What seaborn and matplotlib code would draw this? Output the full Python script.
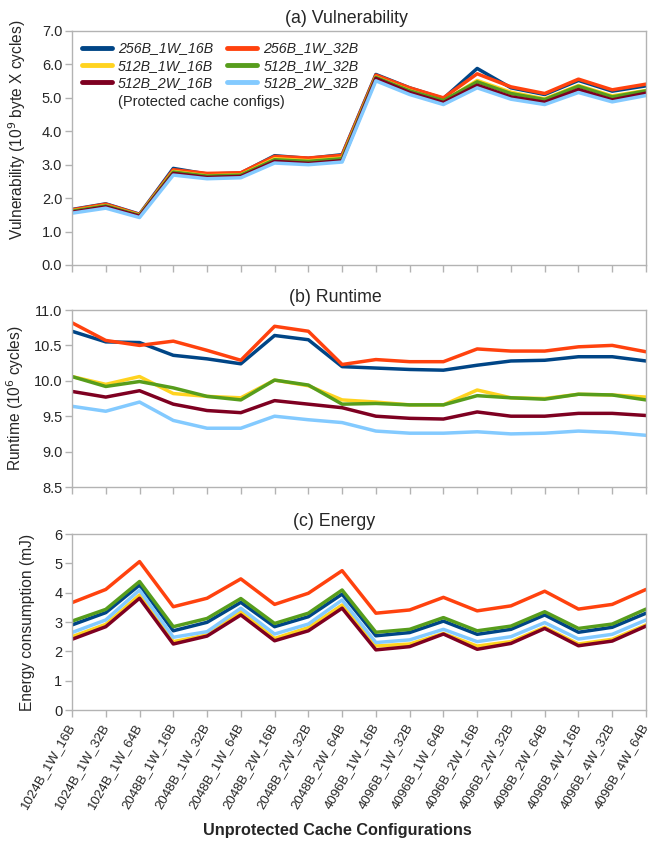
import numpy as np
import pandas as pd
import matplotlib
matplotlib.use("Agg")
import matplotlib.pyplot as plt
import seaborn as sns

# x categories (unprotected cache configs)
configs = ["1024B_1W_16B", "1024B_1W_32B", "1024B_1W_64B",
           "2048B_1W_16B", "2048B_1W_32B", "2048B_1W_64B",
           "2048B_2W_16B", "2048B_2W_32B", "2048B_2W_64B",
           "4096B_1W_16B", "4096B_1W_32B", "4096B_1W_64B",
           "4096B_2W_16B", "4096B_2W_32B", "4096B_2W_64B",
           "4096B_4W_16B", "4096B_4W_32B", "4096B_4W_64B"]

series = ["256B_1W_16B", "256B_1W_32B", "512B_1W_16B",
          "512B_1W_32B", "512B_2W_16B", "512B_2W_32B"]
colors = ["#004586", "#ff420e", "#ffd320", "#579d1c", "#7e0021", "#83caff"]

# (a) vulnerability, 10^9 byte x cycles
vul_256_1w_16 = [1.66, 1.83, 1.52, 2.89, 2.72, 2.75, 3.27, 3.19, 3.30, 5.70, 5.30, 4.98, 5.88, 5.30, 5.10, 5.52, 5.20, 5.36]
vul_256_1w_32 = [1.65, 1.82, 1.51, 2.85, 2.74, 2.76, 3.25, 3.20, 3.28, 5.68, 5.30, 5.00, 5.72, 5.33, 5.13, 5.56, 5.24, 5.41]
vul_512_1w_16 = [1.62, 1.78, 1.49, 2.80, 2.67, 2.70, 3.18, 3.12, 3.20, 5.62, 5.22, 4.90, 5.52, 5.17, 4.97, 5.37, 5.06, 5.22]
vul_512_1w_32 = [1.61, 1.77, 1.48, 2.78, 2.66, 2.69, 3.15, 3.10, 3.18, 5.61, 5.21, 4.92, 5.48, 5.13, 4.95, 5.35, 5.03, 5.21]
vul_512_2w_16 = [1.58, 1.74, 1.46, 2.74, 2.62, 2.65, 3.10, 3.04, 3.12, 5.58, 5.16, 4.86, 5.38, 5.03, 4.87, 5.25, 4.94, 5.14]
vul_512_2w_32 = [1.55, 1.70, 1.42, 2.69, 2.58, 2.61, 3.05, 3.00, 3.08, 5.51, 5.10, 4.80, 5.30, 4.96, 4.80, 5.16, 4.88, 5.07]

# (b) runtime, 10^6 cycles
rt_256_1w_16 = [10.70, 10.55, 10.54, 10.36, 10.31, 10.24, 10.64, 10.58, 10.20, 10.18, 10.16, 10.15, 10.22, 10.28, 10.29, 10.34, 10.34, 10.28]
rt_256_1w_32 = [10.82, 10.57, 10.50, 10.56, 10.43, 10.29, 10.77, 10.70, 10.23, 10.30, 10.27, 10.27, 10.45, 10.42, 10.42, 10.48, 10.50, 10.41]
rt_512_1w_16 = [10.06, 9.95, 10.06, 9.82, 9.78, 9.76, 10.01, 9.93, 9.73, 9.70, 9.66, 9.66, 9.87, 9.76, 9.75, 9.81, 9.80, 9.77]
rt_512_1w_32 = [10.06, 9.92, 9.99, 9.90, 9.78, 9.73, 10.01, 9.94, 9.67, 9.68, 9.66, 9.66, 9.79, 9.76, 9.74, 9.81, 9.80, 9.73]
rt_512_2w_16 = [9.85, 9.77, 9.86, 9.67, 9.58, 9.55, 9.72, 9.67, 9.62, 9.50, 9.47, 9.46, 9.56, 9.50, 9.50, 9.54, 9.54, 9.51]
rt_512_2w_32 = [9.64, 9.57, 9.70, 9.44, 9.33, 9.33, 9.50, 9.45, 9.41, 9.29, 9.26, 9.26, 9.28, 9.25, 9.26, 9.29, 9.27, 9.23]

# (c) energy, mJ
en_256_1w_16 = [2.90, 3.32, 4.26, 2.70, 2.99, 3.67, 2.84, 3.18, 3.95, 2.53, 2.64, 3.03, 2.58, 2.75, 3.24, 2.65, 2.82, 3.30]
en_256_1w_32 = [3.66, 4.11, 5.06, 3.52, 3.81, 4.47, 3.60, 3.98, 4.75, 3.30, 3.41, 3.84, 3.38, 3.55, 4.05, 3.44, 3.60, 4.11]
en_512_1w_16 = [2.50, 2.92, 3.92, 2.33, 2.56, 3.35, 2.44, 2.81, 3.58, 2.18, 2.25, 2.61, 2.18, 2.33, 2.82, 2.25, 2.41, 2.90]
en_512_1w_32 = [3.03, 3.43, 4.38, 2.84, 3.12, 3.80, 2.95, 3.30, 4.09, 2.65, 2.75, 3.15, 2.70, 2.86, 3.35, 2.78, 2.93, 3.44]
en_512_2w_16 = [2.41, 2.84, 3.81, 2.25, 2.52, 3.24, 2.36, 2.70, 3.47, 2.05, 2.16, 2.59, 2.07, 2.27, 2.78, 2.19, 2.35, 2.86]
en_512_2w_32 = [2.64, 3.07, 4.09, 2.48, 2.67, 3.47, 2.59, 2.93, 3.75, 2.30, 2.39, 2.75, 2.33, 2.50, 2.98, 2.42, 2.58, 3.07]

vul = [vul_256_1w_16, vul_256_1w_32, vul_512_1w_16, vul_512_1w_32, vul_512_2w_16, vul_512_2w_32]
rt = [rt_256_1w_16, rt_256_1w_32, rt_512_1w_16, rt_512_1w_32, rt_512_2w_16, rt_512_2w_32]
en = [en_256_1w_16, en_256_1w_32, en_512_1w_16, en_512_1w_32, en_512_2w_16, en_512_2w_32]


def long_df(rows):
    recs = []
    for name, vals in zip(series, rows):
        for i, v in enumerate(vals):
            recs.append({"x": i, "config": name, "value": v})
    return pd.DataFrame(recs)


sns.set_style("white")
plt.rcParams["font.family"] = ["Liberation Sans", "DejaVu Sans"]
grey = "#b3b3b3"

fig = plt.figure(figsize=(6.55, 8.42), dpi=100)
W, H = 655, 842
left, right = 72, 646
boxes = [(31, 265), (310, 487), (534, 710)]
axes = [fig.add_axes([left / W, 1 - b / H, (right - left) / W, (b - t) / H]) for t, b in boxes]

palette = dict(zip(series, colors))
# data, title, title x (axes frac), ylabel, ylabel coords, ylim, yticks, fmt
panels = [
    (vul, "(a) Vulnerability", 0.478, "Vulnerability (10$^9$ byte X cycles)", (-0.076, 0.577),
     (0, 7), np.arange(0, 7.01, 1.0), "{:.1f}"),
    (rt, "(b) Runtime", 0.459, "Runtime (10$^6$ cycles)", (-0.080, 0.5),
     (8.5, 11), np.arange(8.5, 11.01, 0.5), "{:.1f}"),
    (en, "(c) Energy", 0.456, "Energy consumption (mJ)", (-0.064, 0.5),
     (0, 6), np.arange(0, 6.01, 1.0), "{:.0f}"),
]

for ax, (rows, title, tx, ylab, ylc, ylim, yt, fmt) in zip(axes, panels):
    df = long_df(rows)
    sns.lineplot(data=df, x="x", y="value", hue="config", palette=palette,
                 linewidth=2.5, ax=ax, legend=False)
    ax.set_xlim(0, len(configs) - 1)
    ax.set_ylim(*ylim)
    ax.set_yticks(yt)
    ax.set_yticklabels([fmt.format(v) for v in yt])
    ax.set_xticks(range(len(configs)))
    ax.set_xticklabels([])
    ax.set_xlabel("")
    ax.set_ylabel(ylab, fontsize=11.2)
    ax.yaxis.set_label_coords(*ylc)
    ax.set_title(title, fontsize=12.8, pad=6, x=tx)
    for sp in ax.spines.values():
        sp.set_color(grey)
        sp.set_linewidth(1.0)
    ax.tick_params(axis="both", direction="out", length=5, width=1, color=grey,
                   labelsize=10.5, left=True, bottom=True, pad=2)

axes[2].set_xticklabels(configs, rotation=60, ha="right", va="center",
                        rotation_mode="anchor", fontsize=9.5)
axes[2].tick_params(axis="x", pad=5)

# legend on panel (a), two columns
ax = axes[0]
order = [0, 2, 4, 1, 3, 5]
handles = [plt.Line2D([], [], color=colors[i], lw=3.5) for i in order]
labels = [series[i] for i in order]
leg = ax.legend(handles, labels, ncol=2, loc="upper left", bbox_to_anchor=(0.017, 0.955),
                frameon=False, fontsize=10.2, handlelength=2.1, handletextpad=0.45,
                columnspacing=1.0, labelspacing=0.22, borderaxespad=0.0, borderpad=0.0)
for t in leg.get_texts():
    t.set_fontstyle("italic")
ax.text(0.080, 0.697, "(Protected cache configs)", transform=ax.transAxes,
        fontsize=10.5, va="center", ha="left")

fig.text(337 / W, 1 - 831 / H, "Unprotected Cache Configurations",
         fontsize=11.7, fontweight="bold", ha="center", va="center")

fig.savefig("out.png", dpi=100)
